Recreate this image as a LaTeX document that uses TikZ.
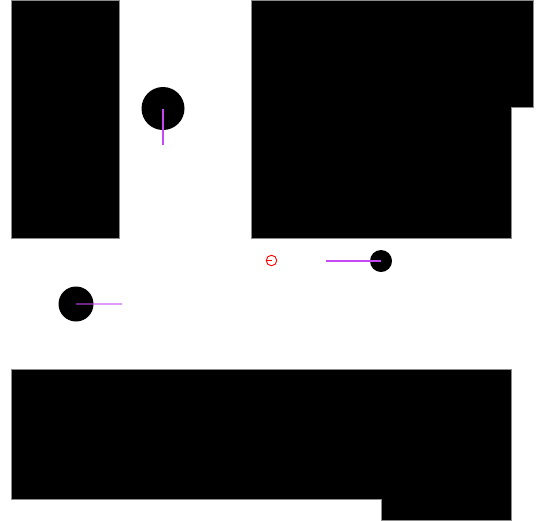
\documentclass[tikz,border=0pt]{standalone}
\definecolor{headcol}{RGB}{200,70,245}
\begin{document}
\begin{tikzpicture}[x=1pt,y=-1pt,
  wall/.style={fill=black,draw=black!45,line width=0.4pt},
  robot/.style={circle,fill=black,inner sep=0pt},
  heading/.style={color=headcol,line width=1.1pt,draw opacity=0.99},
  target/.style={circle,draw=red,line width=0.9pt,inner sep=0pt,minimum size=10.5pt}]
\useasboundingbox (0,0) rectangle (540,520);
\fill[white] (0,0) rectangle (540,520);
% walls
\path[wall] (11,0) rectangle (119.5,238);
\path[wall] (251,0) -- (533,0) -- (533,107.5) -- (511,107.5) -- (511,238) -- (251,238) -- cycle;
\path[wall] (11,369.5) -- (511,369.5) -- (511,520) -- (381,520) -- (381,499.5) -- (11,499.5) -- cycle;
% robots
\node[robot,minimum size=43pt] (r1) at (163,108.5) {};
\node[robot,minimum size=22pt] (r2) at (381,261) {};
\node[robot,minimum size=35pt] (r3) at (76,304) {};
\coordinate (h1) at (163,145);
\coordinate (h2) at (326,261);
\coordinate (h3) at (121.5,304);
\draw[heading] (r1.center) -- (h1);
\draw[heading] (r2.center) -- (h2);
\draw[heading,draw opacity=0.55] (r3.center) -- (h3);
% target
\node[target] (t) at (271.5,260.5) {};
\draw[red,line width=0.9pt] (t.center) -- (t.west);
\end{tikzpicture}
\end{document}
